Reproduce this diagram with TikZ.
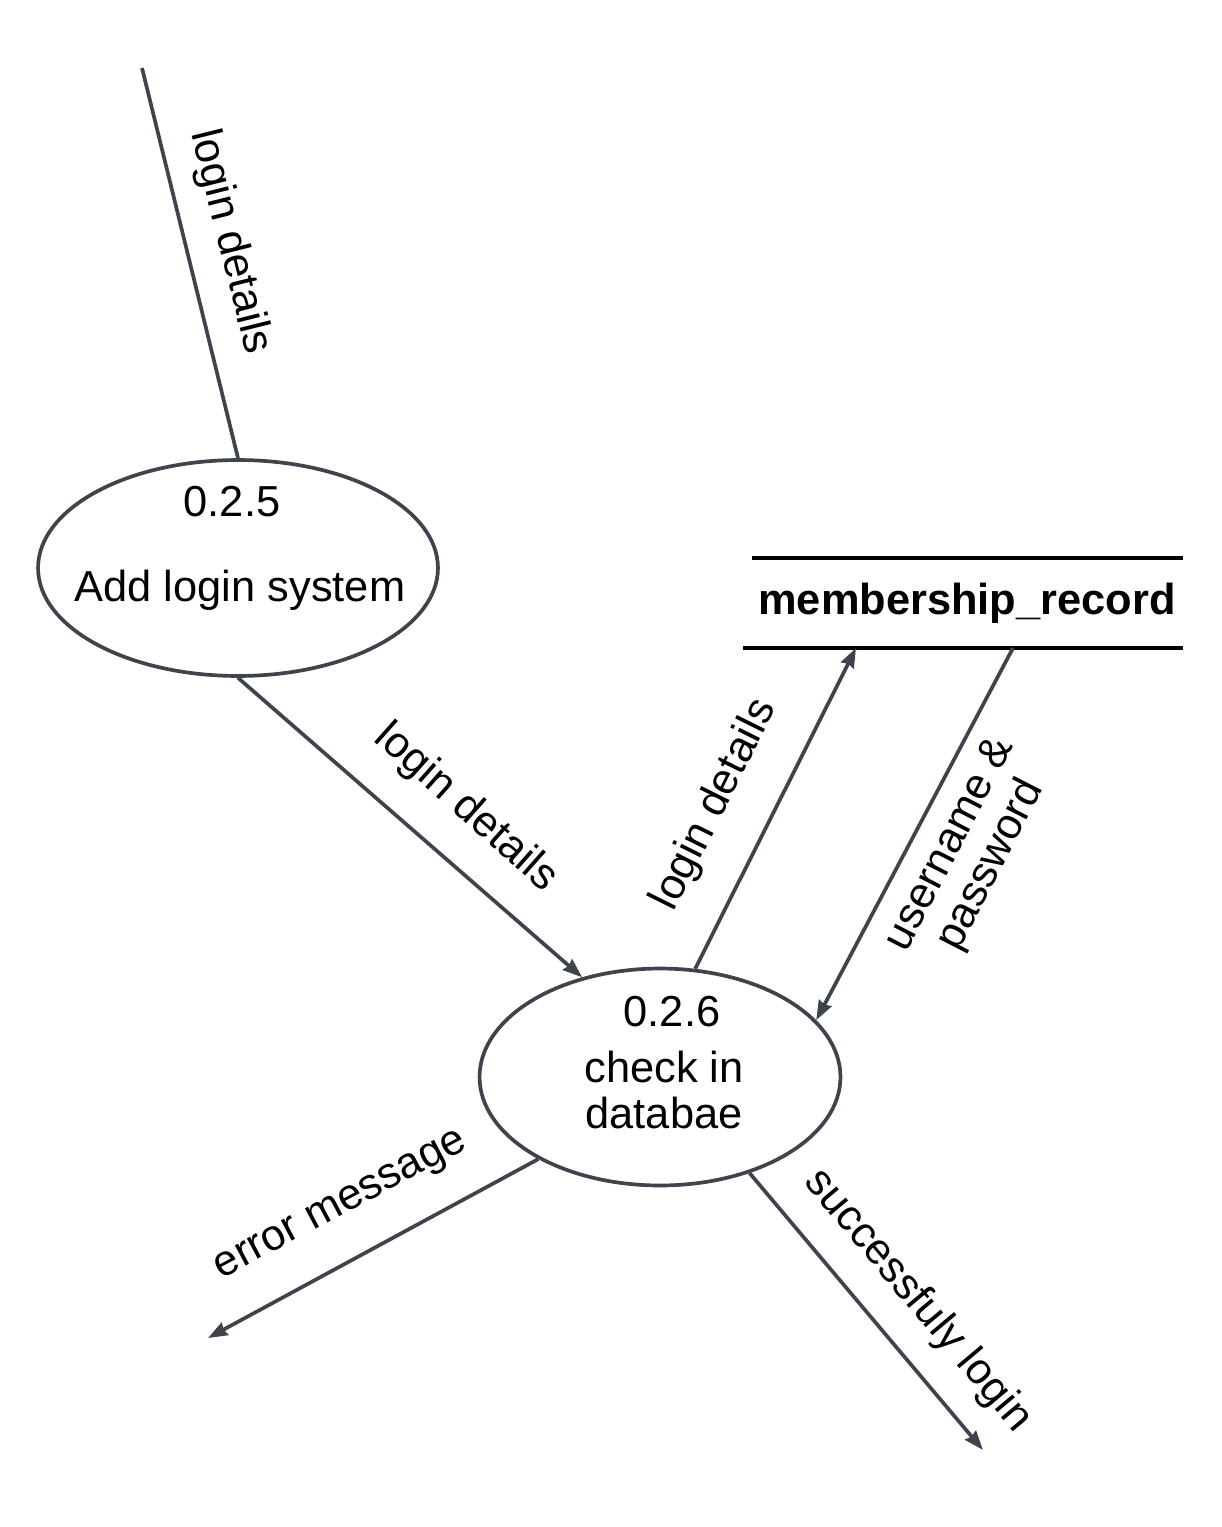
\documentclass[tikz,border=0pt]{standalone}
\usepackage{fontspec}
\setmainfont{Liberation Sans}
\usepackage{tikz}
\usetikzlibrary{arrows.meta}
\usetikzlibrary{shapes.geometric}
\definecolor{flowgray}{HTML}{3E434C}
\tikzset{
  flow/.style={draw=flowgray, line width=2.1pt},
  flowarrow/.style={flow, -{Stealth[length=11pt,width=8pt,inset=1pt]}},
  process/.style={ellipse, draw=flowgray, line width=2.1pt},
  lbl/.style={font=\fontsize{24.7}{29}\selectfont, inner sep=0pt},
}

\begin{document}
\begin{tikzpicture}[x=0.02cm, y=-0.02cm]
\useasboundingbox (0, 0) rectangle (1222, 1527);
\node[process, minimum width=8cm, minimum height=4.32cm] (addlogin) at (238, 568) {};
\node[process, minimum width=7.22cm, minimum height=4.34cm] (check) at (660, 1077) {};
\draw (232, 502) node[lbl] (addnum) {0.2.5};
\draw (240, 590) node[lbl] (addname) {Add login system};
\draw (672, 1012) node[lbl] (checknum) {0.2.6};
\draw (664, 1090) node[lbl, align=center] (checkname) {check in\\[-3pt]databae};
\draw (967, 603) node[lbl, font=\fontsize{24.7}{29}\selectfont\bfseries] (store) {membership\_record};
\draw[line width=2.8pt] (752, 558) -- (1183, 558);
\draw[line width=2.8pt] (743, 648) -- (1183, 648);
\coordinate (src) at (142, 68);
\coordinate (storein) at (856, 648);
\coordinate (storeout) at (1013, 648);
\coordinate (errend) at (208, 1338);
\coordinate (okend) at (983, 1450);
\draw[flow] (src) -- (addlogin.north);
\draw[flowarrow] (addlogin.south) -- (check.128);
\draw[flowarrow] (check.72) -- (storein);
\draw[flowarrow] (storeout) -- (check.20);
\draw[flowarrow] (check.214) -- (errend);
\draw[flowarrow] (check.313) -- (okend);
\draw (230, 242) node[lbl, rotate=-76] (lblsrc) {login details};
\draw (466, 808) node[lbl, rotate=-41.6] (lbladd) {login details};
\draw (715, 805) node[lbl, rotate=63.5] (lblstore) {login details};
\draw (971, 855) node[lbl, rotate=62.8, align=center] (lbluser) {username \&\\[-3pt]password};
\draw (342, 1207) node[lbl, rotate=28] (lblerr) {error message};
\draw (918, 1301) node[lbl, rotate=-50] (lblok) {successfuly login};
\end{tikzpicture}
\end{document}
